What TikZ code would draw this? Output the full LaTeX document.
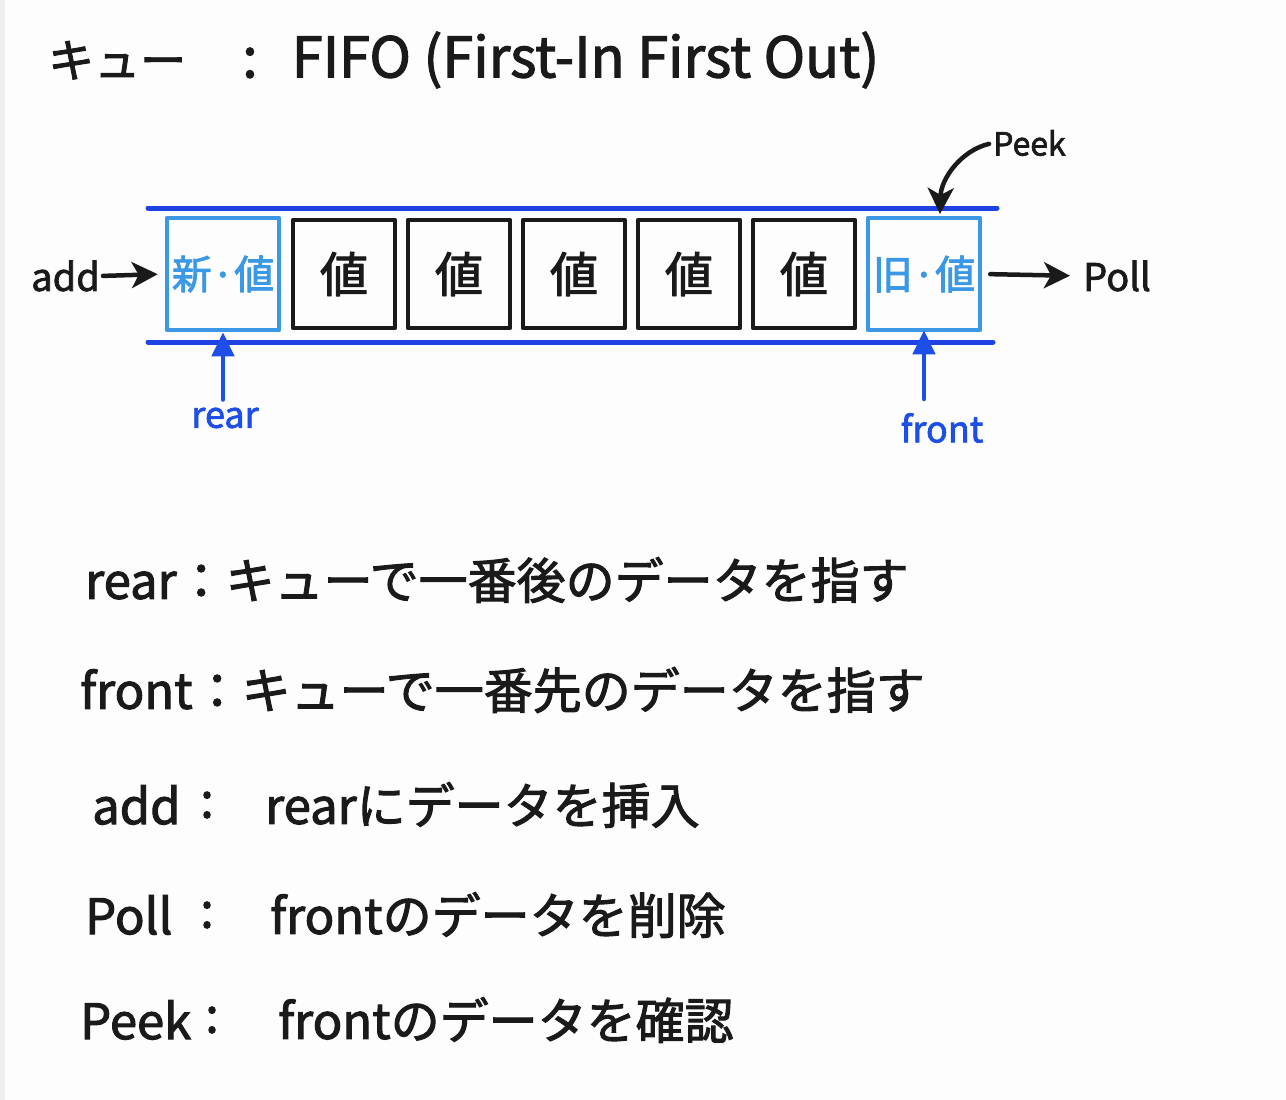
\documentclass[tikz,border=0pt]{standalone}
\usepackage{fontspec}
\setmainfont{Noto Sans CJK JP}
\newfontfamily\hand{Noto Sans CJK JP}[FakeBold=2]
\usepackage{xcolor}
\usepackage{tikz}
\usetikzlibrary{calc,arrows.meta}
\definecolor{bg}{HTML}{FDFDFD}
\definecolor{edge}{HTML}{EFEFEF}
\definecolor{ink}{HTML}{1A1A1A}
\definecolor{lane}{HTML}{1E42E4}
\definecolor{sky}{HTML}{3A98E6}
\definecolor{ptr}{HTML}{1D4EE8}
\tikzset{
  rail/.style={draw=lane, line width=5pt, line cap=round},
  cell/.style={draw=ink, line width=4.5pt, line join=round, minimum width=102pt, minimum height=108pt, inner sep=0pt, font=\hand\fontsize{48}{52}\selectfont, text=ink},
  endcell/.style={draw=sky, line width=4.5pt, line join=round, minimum width=112pt, minimum height=112pt, inner sep=0pt, font=\hand\fontsize{40}{44}\selectfont, text=sky},
  op/.style={draw=ink, line width=4.5pt, line cap=round, -{Stealth[length=26pt,width=26pt,inset=7pt]}},
  ptrarr/.style={draw=ptr, line width=4.5pt, line cap=round, -{Triangle[length=24pt,width=22pt]}},
  lab/.style={text=ink, inner sep=0pt, font=\hand\fontsize{38}{42}\selectfont},
  labp/.style={text=ptr, inner sep=0pt, font=\hand\fontsize{36}{40}\selectfont},
  txt/.style={text=ink, inner sep=0pt, anchor=west, font=\hand\fontsize{49}{53}\selectfont},
}
\begin{document}
\begin{tikzpicture}[x=1pt, y=-1pt]
  \fill[bg] (0,0) rectangle (1286,1100);
  \fill[edge] (0,0) rectangle (5,1100);
  \useasboundingbox (0,0) rectangle (1286,1100);
  % title
  \node[txt, font=\hand\fontsize{56}{60}\selectfont] (title) at (48,60) {{\fontsize{46}{50}\selectfont キュー}\hspace{56pt}:\hspace{34pt}FIFO (First-In First Out)};
  % lanes
  \draw[rail] (148,208) -- (997,208);
  \draw[rail] (148,342) -- (993,342);
  % queue cells
  \node[endcell] (new) at (223,274) {新·値};
  \node[cell] (v1) at (344,274) {値};
  \node[cell] (v2) at (459,274) {値};
  \node[cell] (v3) at (574,274) {値};
  \node[cell] (v4) at (689,274) {値};
  \node[cell] (v5) at (804,274) {値};
  \node[endcell] (old) at (924,274) {旧·値};
  % operations
  \node[lab, anchor=east] (add) at (100,276) {add};
  \node[lab, anchor=west] (poll) at (1083,276) {Poll};
  \node[lab, anchor=west, font=\hand\fontsize{32}{36}\selectfont] (peek) at (993,143) {Peek};
  \coordinate (peektip) at (940,214);
  \draw[op, shorten <=3pt, shorten >=7pt] (add.east) -- (new.west);
  \draw[op, shorten <=8pt, shorten >=13pt] (old.east) -- (poll.west);
  \draw[op, shorten <=4pt] (peek.west) .. controls (962,150) and (941,178) .. (peektip);
  % pointers
  \node[labp] (rear) at (225,418) {rear};
  \node[labp] (front) at (942,428) {front};
  \draw[ptrarr, shorten <=8pt] (rear.north -| new) -- (new.south);
  \draw[ptrarr, shorten <=14pt, shorten >=-2pt] (front.north -| old) -- (old.south);
  % notes
  \node[txt] (nrear) at (85,580) {rear：キューで一番後のデータを指す};
  \node[txt] (nfront) at (80,690) {front：キューで一番先のデータを指す};
  \node[txt] (nadd) at (92,805) {add};
  \node[txt] (nadds) at (200,805) {:};
  \node[txt] (naddd) at (265,805) {rearにデータを挿入};
  \node[txt] (npoll) at (85,915) {Poll};
  \node[txt] (npolls) at (200,915) {:};
  \node[txt] (npolld) at (270,915) {frontのデータを削除};
  \node[txt] (npeek) at (80,1020) {Peek};
  \node[txt] (npeeks) at (205,1020) {:};
  \node[txt] (npeekd) at (278,1020) {frontのデータを確認};
\end{tikzpicture}
\end{document}
